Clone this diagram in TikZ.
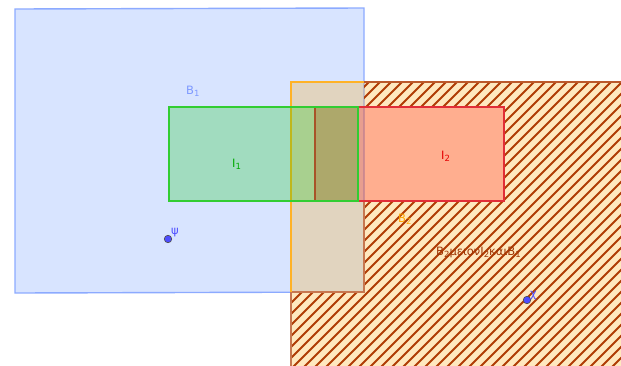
\documentclass[tikz,border=0pt]{standalone}
\usepackage{fontspec}
\setmainfont{DejaVu Sans}
\definecolor{bone}{RGB}{216,228,255}
\definecolor{bedge}{RGB}{140,170,255}
\definecolor{borng}{RGB}{255,165,0}
\definecolor{hatchc}{RGB}{175,60,5}
\definecolor{igrn}{RGB}{0,200,0}
\definecolor{igedge}{RGB}{50,205,50}
\definecolor{ired}{RGB}{255,0,0}
\definecolor{iredge}{RGB}{225,45,55}
\definecolor{ptblue}{RGB}{77,77,255}
\newcommand{\lowsub}[1]{\raisebox{-0.45ex}{\fontsize{8.5}{10}\selectfont #1}}
\tikzset{
  lbl/.style={anchor=base west, inner sep=0pt, font=\fontsize{11.5}{13}\selectfont},
  pt/.style={circle, fill=ptblue, draw=black!70, line width=0.6pt, inner sep=0pt, minimum size=7.5pt}
}
\begin{document}
\begin{tikzpicture}[x=1pt,y=-1pt]
\useasboundingbox (0,0) rectangle (621,365);
% B1
\fill[bone] (15,9) -- (364,8) -- (364,292) -- (15,293) -- cycle;
\draw[bedge, line width=1.4pt] (15,9) -- (364,8) -- (364,292) -- (15,293) -- cycle;
% B2 translucent fill
\fill[borng, fill opacity=0.25] (291,82) rectangle (640,380);
% hatched region B2 minus I2 minus B1
\begin{scope}
\clip (364,82) -- (640,82) -- (640,380) -- (291,380) -- (291,292) -- (364,292) -- (364,201) -- (504,201) -- (504,107) -- (364,107) -- cycle;
\foreach \c in {0,11,...,1100} {
  \draw[hatchc, line width=2pt] (\c,0) -- (\c-500,500);
}
\end{scope}
\draw[hatchc!85, line width=1.4pt] (364,82) -- (640,82);
\draw[hatchc!70, line width=1.4pt] (291,380) -- (291,292) -- (364,292) -- (364,201);
\draw[borng!85, line width=1.4pt] (291,292) -- (291,82) -- (364,82);
% I2 then I1
\fill[ired, fill opacity=0.25] (315,107) rectangle (504,201);
\draw[iredge, line width=1.4pt] (315,107) rectangle (504,201);
\fill[igrn, fill opacity=0.25] (169,107) rectangle (358,201);
\draw[igedge, line width=1.4pt] (169,107) rectangle (358,201);
% labels
\node[lbl, text=bedge!90!blue] (lb1) at (186,94) {B\lowsub{1}};
\node[lbl, text=igrn!85!black] (li1) at (232,167) {I\lowsub{1}};
\node[lbl, text=ired!90!black] (li2) at (441,159) {I\lowsub{2}};
\node[lbl, text=borng] (lb2) at (398,222) {B\lowsub{2}};
\node[lbl, text=hatchc!90!black] (llong) at (436,255) {B\lowsub{2}μειονI\lowsub{2}καιB\lowsub{1}};
% points
\node[pt] (psi) at (168,239) {};
\node[pt] (chi) at (527,300) {};
\node[lbl, text=ptblue] (lpsi) at (171,234) {ψ};
\node[lbl, text=ptblue] (lchi) at (530,297) {χ};
\end{tikzpicture}
\end{document}
